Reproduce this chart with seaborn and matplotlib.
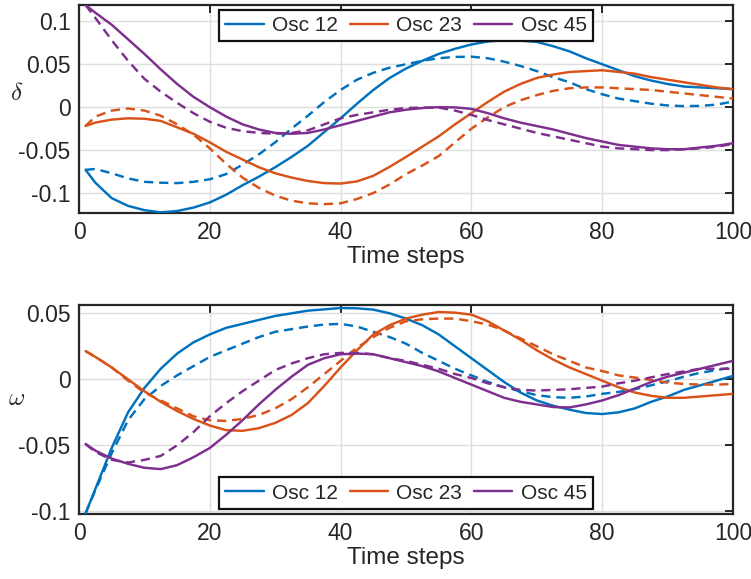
import numpy as np
import pandas as pd
import matplotlib
matplotlib.use("Agg")
import matplotlib.pyplot as plt
import seaborn as sns
from matplotlib.lines import Line2D
from matplotlib.ticker import FuncFormatter

# ---------------- data ----------------
t = [1, 2.5, 5, 7.5, 10, 12.5, 15, 17.5, 20, 22.5, 25, 27.5, 30, 32.5, 35, 37.5, 40, 42.5, 45, 47.5,
     50, 52.5, 55, 57.5, 60, 62.5, 65, 67.5, 70, 72.5, 75, 77.5, 80, 82.5, 85, 87.5, 90, 92.5, 95,
     97.5, 100]

# delta (top panel) -- solid
d12 = [-0.073, -0.088, -0.106, -0.115, -0.120, -0.1225, -0.121, -0.117, -0.111, -0.102, -0.091,
       -0.081, -0.070, -0.058, -0.045, -0.029, -0.013, 0.004, 0.020, 0.034, 0.045, 0.054, 0.062,
       0.068, 0.073, 0.0765, 0.078, 0.0775, 0.076, 0.071, 0.065, 0.057, 0.050, 0.043, 0.036, 0.031,
       0.027, 0.024, 0.023, 0.022, 0.021]
d23 = [-0.022, -0.018, -0.0145, -0.013, -0.0135, -0.016, -0.0235, -0.031, -0.041, -0.052, -0.061,
       -0.070, -0.077, -0.082, -0.086, -0.0885, -0.089, -0.0865, -0.080, -0.0695, -0.058, -0.046,
       -0.034, -0.020, -0.007, 0.006, 0.018, 0.027, 0.034, 0.038, 0.041, 0.042, 0.043, 0.041,
       0.039, 0.035, 0.032, 0.029, 0.026, 0.023, 0.021]
d45 = [0.119, 0.110, 0.096, 0.079, 0.062, 0.044, 0.027, 0.012, 0.000, -0.011, -0.020, -0.026,
       -0.030, -0.031, -0.030, -0.026, -0.021, -0.016, -0.011, -0.006, -0.003, -0.001, 0.000,
       -0.0003, -0.002, -0.007, -0.013, -0.018, -0.022, -0.026, -0.031, -0.036, -0.040, -0.044,
       -0.046, -0.048, -0.049, -0.049, -0.047, -0.045, -0.042]
# delta -- dashed
d12d = [-0.073, -0.072, -0.077, -0.083, -0.087, -0.088, -0.0885, -0.087, -0.084, -0.078, -0.067,
        -0.055, -0.041, -0.025, -0.010, 0.006, 0.020, 0.032, 0.040, 0.046, 0.050, 0.054, 0.057,
        0.0585, 0.0588, 0.057, 0.053, 0.048, 0.042, 0.035, 0.029, 0.021, 0.015, 0.010, 0.007,
        0.004, 0.002, 0.0012, 0.0015, 0.003, 0.0065]
d23d = [-0.022, -0.011, -0.004, -0.0015, -0.004, -0.010, -0.020, -0.032, -0.048, -0.066, -0.082,
        -0.094, -0.103, -0.109, -0.112, -0.113, -0.112, -0.107, -0.100, -0.090, -0.078, -0.068,
        -0.057, -0.041, -0.025, -0.012, 0.000, 0.008, 0.014, 0.019, 0.022, 0.023, 0.023, 0.022,
        0.021, 0.020, 0.018, 0.016, 0.014, 0.012, 0.010]
d45d = [0.119, 0.104, 0.078, 0.054, 0.033, 0.018, 0.005, -0.007, -0.017, -0.024, -0.028, -0.030,
        -0.031, -0.030, -0.027, -0.020, -0.013, -0.009, -0.006, -0.003, -0.001, -0.0005, -0.0005,
        -0.004, -0.009, -0.015, -0.020, -0.025, -0.030, -0.034, -0.038, -0.042, -0.046, -0.048,
        -0.049, -0.050, -0.050, -0.049, -0.048, -0.046, -0.043]

# omega (bottom panel) -- solid
w12 = [-0.1016, -0.083, -0.052, -0.025, -0.0065, 0.008, 0.0195, 0.028, 0.034, 0.039, 0.042, 0.045,
       0.048, 0.050, 0.052, 0.053, 0.054, 0.0538, 0.0528, 0.050, 0.046, 0.041, 0.034, 0.025, 0.016,
       0.007, -0.002, -0.010, -0.016, -0.020, -0.023, -0.0255, -0.0263, -0.025, -0.022, -0.017,
       -0.013, -0.008, -0.0045, -0.001, 0.0026]
w23 = [0.0214, 0.017, 0.009, 0.000, -0.009, -0.017, -0.024, -0.030, -0.035, -0.0385, -0.039,
       -0.037, -0.033, -0.027, -0.018, -0.005, 0.009, 0.022, 0.034, 0.041, 0.046, 0.049, 0.051,
       0.0505, 0.049, 0.044, 0.037, 0.030, 0.022, 0.015, 0.009, 0.004, -0.001, -0.006, -0.010,
       -0.0125, -0.014, -0.014, -0.013, -0.012, -0.011]
w45 = [-0.049, -0.054, -0.060, -0.064, -0.067, -0.068, -0.065, -0.059, -0.052, -0.042, -0.031,
       -0.019, -0.008, 0.002, 0.011, 0.016, 0.019, 0.0195, 0.019, 0.016, 0.013, 0.010, 0.006,
       0.001, -0.004, -0.009, -0.014, -0.017, -0.019, -0.021, -0.0213, -0.019, -0.016, -0.012,
       -0.007, -0.002, 0.002, 0.005, 0.008, 0.011, 0.014]
# omega -- dashed
w12d = [-0.1016, -0.084, -0.056, -0.031, -0.015, -0.005, 0.003, 0.010, 0.017, 0.022, 0.027, 0.032,
        0.036, 0.038, 0.040, 0.0415, 0.042, 0.040, 0.036, 0.032, 0.027, 0.020, 0.014, 0.008, 0.003,
        -0.002, -0.006, -0.009, -0.012, -0.0135, -0.014, -0.013, -0.011, -0.0095, -0.0075,
        -0.0045, -0.0015, 0.002, 0.005, 0.007, 0.009]
w23d = [0.0214, 0.017, 0.009, -0.001, -0.010, -0.016, -0.022, -0.028, -0.031, -0.0315, -0.030,
        -0.027, -0.022, -0.015, -0.006, 0.004, 0.014, 0.024, 0.032, 0.039, 0.044, 0.0455, 0.046,
        0.046, 0.044, 0.0415, 0.037, 0.031, 0.025, 0.019, 0.014, 0.009, 0.0063, 0.003, 0.0013,
        -0.0005, -0.0025, -0.0035, -0.004, -0.004, -0.0035]
w45d = [-0.049, -0.055, -0.061, -0.063, -0.061, -0.058, -0.050, -0.040, -0.028, -0.018, -0.009,
        -0.001, 0.007, 0.012, 0.016, 0.019, 0.020, 0.020, 0.019, 0.016, 0.014, 0.011, 0.008, 0.004,
        0.001, -0.003, -0.006, -0.008, -0.0085, -0.008, -0.0075, -0.0065, -0.0055, -0.003, -0.001,
        0.0015, 0.004, 0.006, 0.008, 0.008, 0.008]

labels = ["Osc 12", "Osc 23", "Osc 45"]
colors = ["#0072BD", "#D95319", "#7E2F8E"]
xticks = [0, 20, 40, 60, 80, 100]
yticks_top = [-0.1, -0.05, 0, 0.05, 0.1]
yticks_bot = [-0.1, -0.05, 0, 0.05]

# ---------------- style ----------------
sns.set_style("white")
plt.rcParams["font.family"] = ["Liberation Sans", "DejaVu Sans"]
plt.rcParams["axes.unicode_minus"] = False
plt.rcParams["mathtext.fontset"] = "cm"

fig = plt.figure(figsize=(7.51, 5.79), dpi=100)
ax1 = fig.add_axes([79 / 751, 1 - 213 / 579, 654 / 751, 208 / 579])
ax2 = fig.add_axes([79 / 751, 1 - 514 / 579, 654 / 751, 209 / 579])

dash = (0, (3.8, 2.4))
LW = 1.75


def draw(ax, solids, dasheds, ylim, yticks, ylab, ylab_y, legend_loc):
    for vals, vd, c in zip(solids, dasheds, colors):
        sns.lineplot(x=t, y=vals, color=c, linewidth=LW, ax=ax, legend=False, zorder=3)
        sns.lineplot(x=t, y=vd, color=c, linewidth=LW, linestyle=dash, ax=ax, legend=False, zorder=3)
    ax.set_xlim(0, 100)
    ax.set_ylim(*ylim)
    ax.set_xticks(xticks)
    ax.set_yticks(yticks)
    ax.yaxis.set_major_formatter(FuncFormatter(lambda v, p: "%g" % round(v, 4)))
    ax.grid(True, color="#dedede", linewidth=1.0, zorder=0)
    ax.set_axisbelow(True)
    for s in ax.spines.values():
        s.set_visible(True)
        s.set_linewidth(1.6)
        s.set_color("#262626")
    ax.tick_params(direction="in", length=6, width=1.4, colors="#262626", labelsize=16.5,
                   top=True, right=True, pad=6)
    ax.set_xlabel("Time steps", fontsize=17.5, color="#262626", labelpad=1)
    ax.set_ylabel(ylab, fontsize=18, rotation=0, color="#262626", va="center", ha="center")
    ax.yaxis.set_label_coords(-0.095, ylab_y)
    handles = [Line2D([0], [0], color=c, linewidth=LW) for c in colors]
    if legend_loc == "upper center":
        anchor = (0.5, 0.977)
    else:
        anchor = (0.5, 0.025)
    leg = ax.legend(handles, labels, loc=legend_loc, bbox_to_anchor=anchor, ncol=3,
                    fontsize=15, frameon=True, fancybox=False, framealpha=1,
                    edgecolor="#111111", handlelength=1.85, handletextpad=0.4,
                    columnspacing=0.55, borderpad=0.3, borderaxespad=0.0)
    leg.get_frame().set_linewidth(1.6)
    leg.set_zorder(5)


draw(ax1, [d12, d23, d45], [d12d, d23d, d45d], (-0.1233, 0.119), yticks_top,
     r"$\delta$", 0.577, "upper center")
draw(ax2, [w12, w23, w45], [w12d, w23d, w45d], (-0.102, 0.0563), yticks_bot,
     r"$\omega$", 0.555, "lower center")

fig.savefig("out.png", dpi=100)
